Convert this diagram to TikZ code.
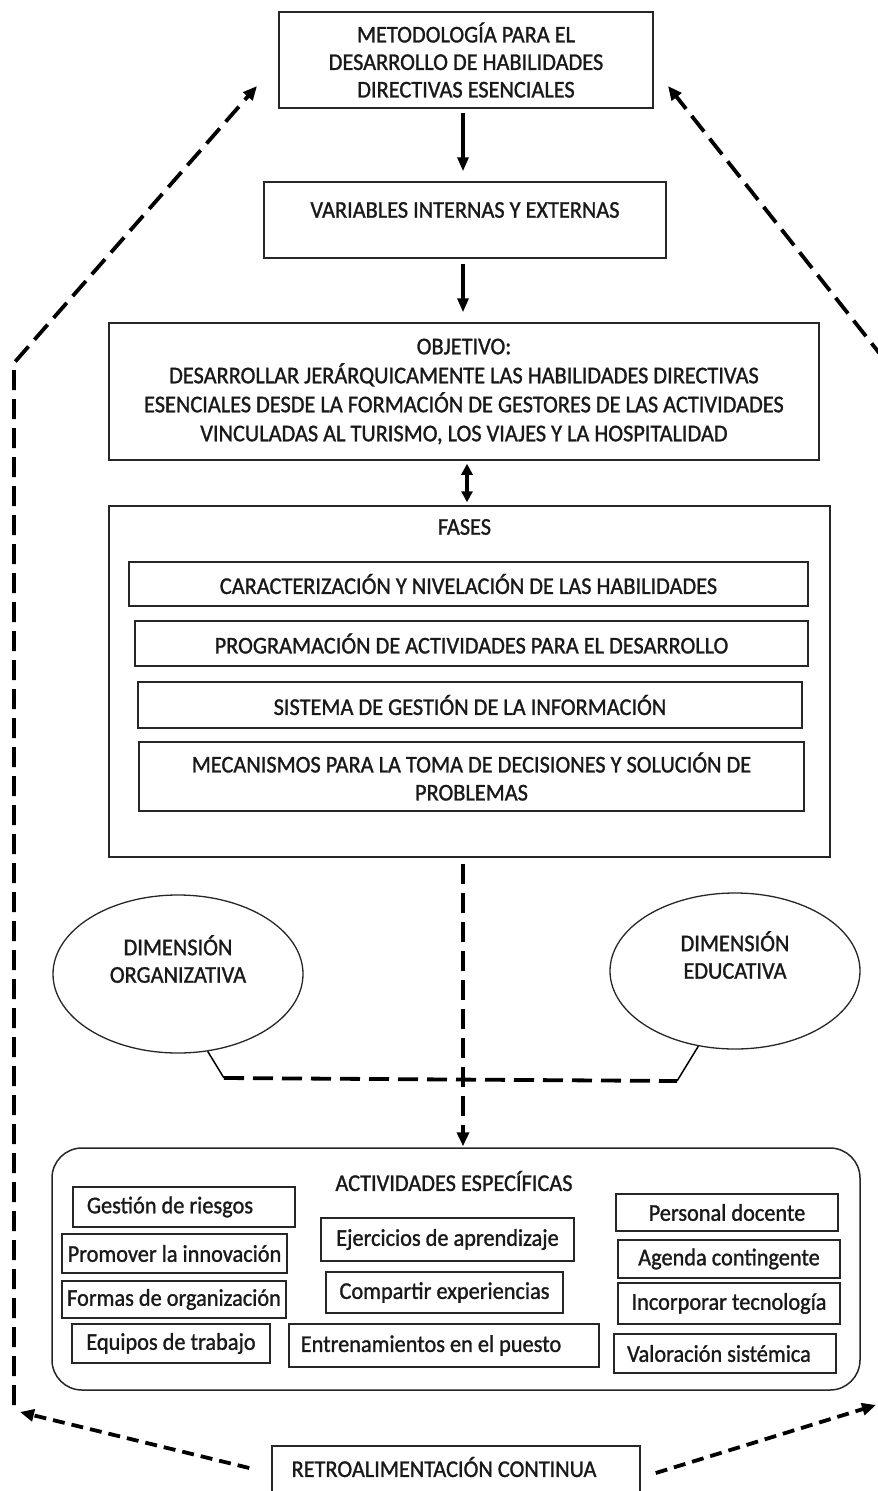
\documentclass[tikz,border=0pt]{standalone}
\usepackage{fontspec}
\setmainfont{Carlito}[FakeStretch=0.93, FakeBold=1.2]
\usetikzlibrary{arrows.meta,shapes.geometric}
\begin{document}
\begin{tikzpicture}[x=1pt,y=-1pt,
  font=\fontsize{24}{27.5}\selectfont,
  every label/.style={inner sep=0pt, text=black!90, align=center},
  box/.style={draw=black!85, line width=1.5pt, inner sep=0pt, align=center, text=black!90},
  ell/.style={draw=black!85, line width=1.3pt, ellipse, inner sep=0pt},
  sarrow/.style={line width=3.2pt, -{Triangle[length=14pt,width=11pt]}},
  darrow/.style={line width=3.2pt, {Triangle[length=11pt,width=11pt]}-{Triangle[length=11pt,width=11pt]}},
  dline/.style={line width=3.8pt, dash pattern=on 20pt off 9pt},
  dshort/.style={line width=3.8pt, dash pattern=on 12pt off 7pt},
  dtip/.style={-{Triangle[length=14pt,width=12pt]}},
]
\useasboundingbox (0,0) rectangle (878,1491);
\clip (0,0) rectangle (878,1491);

\coordinate (axis) at (463,0);
\coordinate (axisb) at (467,0);

% main column
\node[box, minimum width=374pt, minimum height=96pt] (met) at (466,60)
  {METODOLOGÍA PARA EL\\DESARROLLO DE HABILIDADES\\DIRECTIVAS ESENCIALES};
\node[box, minimum width=402pt, minimum height=76pt,
  label={[yshift=10pt]center:VARIABLES INTERNAS Y EXTERNAS}] (var) at (465,220) {};
\node[box, minimum width=710pt, minimum height=137pt, font=\fontsize{24}{29}\selectfont] (obj) at (464,391.5)
  {OBJETIVO:\\DESARROLLAR JERÁRQUICAMENTE LAS HABILIDADES DIRECTIVAS\\ESENCIALES DESDE LA FORMACIÓN DE GESTORES DE LAS ACTIVIDADES\\VINCULADAS AL TURISMO, LOS VIAJES Y LA HOSPITALIDAD};
\node[box, minimum width=721pt, minimum height=351pt,
  label={[yshift=154.5pt,xshift=-5pt]center:FASES}] (fases) at (469.5,681.5) {};
\node[box, minimum width=679pt, minimum height=44pt] (f1) at (468.5,584)
  {CARACTERIZACIÓN Y NIVELACIÓN DE LAS HABILIDADES};
\node[box, minimum width=673pt, minimum height=45pt] (f2) at (471.5,643.5)
  {PROGRAMACIÓN DE ACTIVIDADES PARA EL DESARROLLO};
\node[box, minimum width=664pt, minimum height=46pt] (f3) at (470,705)
  {SISTEMA DE GESTIÓN DE LA INFORMACIÓN};
\node[box, minimum width=665pt, minimum height=69pt, font=\fontsize{24}{28}\selectfont] (f4) at (471.5,776.5)
  {MECANISMOS PARA LA TOMA DE DECISIONES Y SOLUCIÓN DE\\PROBLEMAS};

% dimensions
\node[ell, minimum width=250pt, minimum height=158pt,
  label={[yshift=15pt]center:DIMENSIÓN\\ORGANIZATIVA}] (eL) at (178,974) {};
\node[ell, minimum width=250pt, minimum height=156pt,
  label={[yshift=16pt]center:DIMENSIÓN\\EDUCATIVA}] (eR) at (735,971) {};

% activities
\node[box, rounded corners=30pt, minimum width=808pt, minimum height=242pt,
  label={[yshift=88pt,xshift=-2pt]center:ACTIVIDADES ESPECÍFICAS}] (act) at (456,1269) {};
\node[box, minimum width=222pt, minimum height=40pt,
  label={[xshift=-14pt]center:Gestión de riesgos}] (a1) at (184,1207) {};
\node[box, minimum width=225pt, minimum height=39pt] (a2) at (174.5,1253.5) {Promover la innovación};
\node[box, minimum width=224pt, minimum height=37pt] (a3) at (174,1299.5) {Formas de organización};
\node[box, minimum width=198pt, minimum height=39pt] (a4) at (171,1343.5) {Equipos de trabajo};
\node[box, minimum width=253pt, minimum height=43pt] (a5) at (447.5,1239.5) {Ejercicios de aprendizaje};
\node[box, minimum width=237pt, minimum height=41pt] (a6) at (444.5,1292.5) {Compartir experiencias};
\node[box, minimum width=310pt, minimum height=43pt,
  label={[xshift=-13pt]center:Entrenamientos en el puesto}] (a7) at (444,1345.5) {};
\node[box, minimum width=222pt, minimum height=37pt] (a8) at (727,1212.5) {Personal docente};
\node[box, minimum width=222pt, minimum height=38pt] (a9) at (729,1259) {Agenda contingente};
\node[box, minimum width=222pt, minimum height=41pt] (a10) at (729,1303.5) {Incorporar tecnología};
\node[box, minimum width=222pt, minimum height=39pt,
  label={[xshift=-6pt]center:Valoración sistémica}] (a11) at (725,1353.5) {};

% feedback
\node[box, minimum width=368pt, minimum height=54pt,
  label={[yshift=6pt,xshift=-12pt]center:RETROALIMENTACIÓN CONTINUA}] (ret) at (456,1473) {};

% solid arrows
\draw[sarrow, shorten <=4pt, shorten >=10pt] (met.south -| axis) -- (var.north -| axis);
\draw[sarrow, shorten <=5pt, shorten >=10pt] (var.south -| axis) -- (obj.north -| axis);
\draw[darrow, shorten <=3pt, shorten >=3pt] (obj.south -| axisb) -- (fases.north -| axisb);

% dashed flow
\draw[dline, dtip, shorten <=6pt, shorten >=1pt] (fases.south -| axis) -- (act.north -| axis);
\coordinate (cL) at (224,1078);
\coordinate (cR) at (677,1081);
\draw[line width=1.5pt] (eL.-69.6) -- (cL);
\draw[dline] (cL) -- (cR);
\draw[line width=1.5pt] (cR) -- (eR.-116.3);

% feedback loop
\coordinate (bl) at (14,1405);
\coordinate (tl) at (14,363);
\coordinate (tlTip) at (257,86);
\coordinate (tr) at (884,359);
\coordinate (trTip) at (668,86);
\draw[dline, dtip] (bl) -- (tl) -- (tlTip);
\draw[dline, dtip] (tr) -- (trTip);
\coordinate (blTip) at (20,1412);
\coordinate (brTip) at (876,1405);
\draw[dshort, dtip] (ret.west |- 0,1468) ++(-22,0) -- (blTip);
\draw[dshort, dtip] (ret.east |- 0,1473) ++(15,0) -- (brTip);
\end{tikzpicture}
\end{document}
